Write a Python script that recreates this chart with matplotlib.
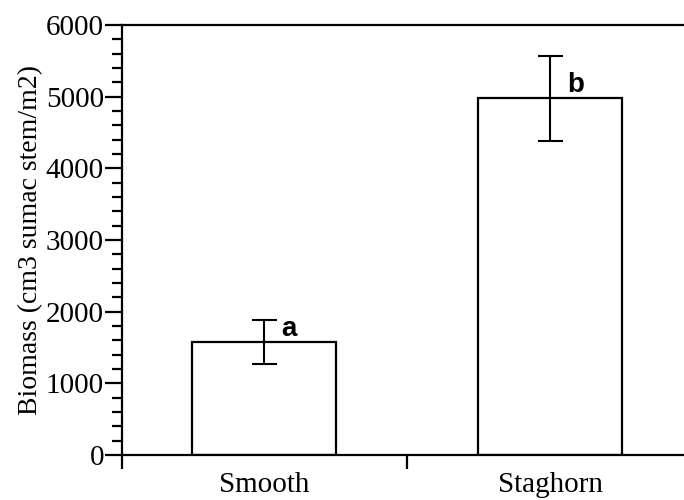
import matplotlib
matplotlib.use("Agg")
import matplotlib.pyplot as plt
from matplotlib.ticker import MultipleLocator, FixedLocator, NullFormatter

categories = ["Smooth", "Staghorn"]
values = [1580, 4975]
errors = [305, 590]
letters = ["a", "b"]
y_ticks = [0, 1000, 2000, 3000, 4000, 5000, 6000]

fig = plt.figure(figsize=(6.84, 5.0), dpi=100)
ax = fig.add_axes([122/684, 1 - 455/500, 570/684, (455 - 25)/500])

x = list(range(len(categories)))
ax.bar(x, values, width=0.503, color="white", edgecolor="black", linewidth=1.6, zorder=2)
ax.errorbar(x, values, yerr=errors, fmt="none", ecolor="black", elinewidth=1.5,
            capsize=9, capthick=1.5, zorder=3)

for xi, v, lab in zip(x, values, letters):
    ax.text(xi + 0.06, v + 85, lab, fontsize=20, fontweight="bold",
            family="Liberation Sans", ha="left", va="baseline")

ax.set_xlim(-0.497, -0.497 + 570/286)
ax.set_ylim(0, 6000)

for s in ["left", "bottom", "top"]:
    ax.spines[s].set_linewidth(1.6)
ax.spines["right"].set_visible(False)

ax.set_yticks(y_ticks)
ax.set_yticklabels([str(t) for t in y_ticks], family="Liberation Serif", fontsize=21)
ax.yaxis.set_minor_locator(MultipleLocator(200))
ax.tick_params(axis="y", which="major", length=12, width=1.6, direction="out", pad=1)
ax.tick_params(axis="y", which="minor", length=7, width=1.6, direction="out")

ax.set_xticks(x)
ax.set_xticklabels(categories, family="Liberation Serif", fontsize=21)
ax.tick_params(axis="x", which="major", length=0, pad=12)
ax.xaxis.set_minor_locator(FixedLocator([-0.497, 0.5]))
ax.xaxis.set_minor_formatter(NullFormatter())
ax.tick_params(axis="x", which="minor", length=10, width=1.6, direction="out")

ax.set_ylabel("Biomass (cm3 sumac stem/m2)", family="Liberation Serif", fontsize=20, labelpad=2)

fig.savefig("out.png", dpi=100)
